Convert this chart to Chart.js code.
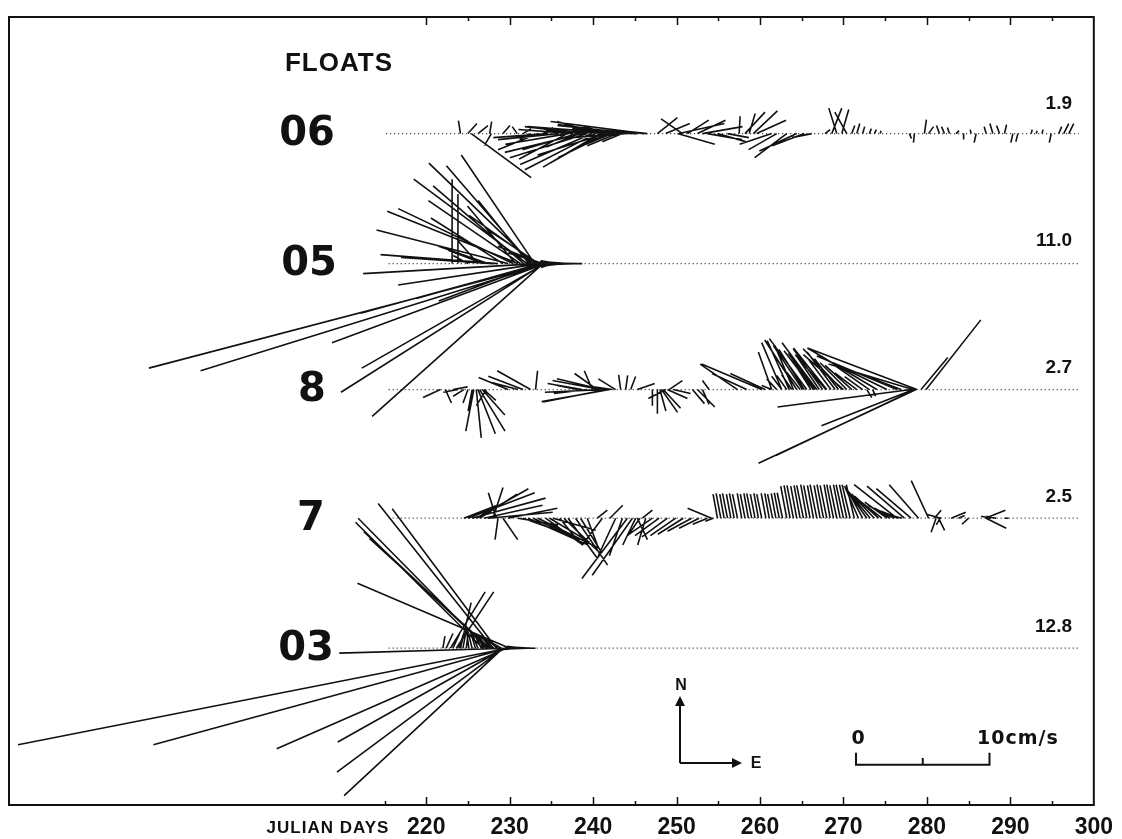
<!DOCTYPE html>
<html>
<head>
<meta charset="utf-8">
<script src="https://cdn.jsdelivr.net/npm/chart.js@4.4.0/dist/chart.umd.min.js"></script>
<style>
  html, body { margin: 0; padding: 0; background: #fff; }
  #wrap { position: relative; width: 1122px; height: 839px; }
</style>
</head>
<body>
<div id="wrap"><canvas id="floats"></canvas></div>
<script>
// rows, top to bottom
const floatNames = ["06", "05", "8", "7", "03"];
const rowNumbers = ["1.9", "11.0", "2.7", "2.5", "12.8"];
const dayTicks = [220, 230, 240, 250, 260, 270, 280, 290, 300];

// float 06 : start day of each stick, east / north speed in cm/s
const days06 = [224.1, 225.0, 225.4, 226.2, 227.6, 227.8, 229.2, 230.9, 231.6, 232.4, 233.4, 234.0, 234.6, 235.8, 236.4, 237.0, 237.6, 238.1, 238.7, 239.1,
  239.3, 239.9, 240.3, 240.5, 240.8, 241.1, 241.5, 241.7, 242.0, 242.3, 242.7, 242.9, 243.2, 243.5, 244.1, 244.7, 245.3, 246.1, 246.5, 247.7,
  248.7, 250.1, 250.3, 250.7, 251.3, 252.5, 253.1, 253.7, 254.9, 256.1, 257.5, 258.2, 258.7, 259.2, 259.6, 261.4, 262.0, 263.2, 264.4, 265.3,
  266.2, 267.8, 268.6, 269.2, 269.8, 270.4, 271.0, 271.6, 272.3, 273.1, 273.7, 274.4, 277.9, 278.5, 279.7, 280.2, 281.5, 282.1, 282.7, 283.5,
  284.4, 285.3, 285.9, 287.1, 287.9, 288.7, 289.3, 290.3, 290.9, 292.5, 293.1, 293.8, 294.9, 295.8, 296.4, 297.0,
  236.9, 238.4, 243.8, 245.0];
const east06 = [-0.15, 0.67, 4.48, 0.75, 0.15, -0.52, 0.52, -0.37, 0.6, -0.75, -3.0, 0.75, -4.1, -4.5, -1.9, -4.7, -4.1, -4.1, -5.8, -4.55,
  -5.8, -5.4, -5.3, -3.0, -4.25, -3.9, -5.1, -3.7, -2.0, -3.0, -5.2, -2.25, -6.9, -1.5, -5.2, -4.5, -3.4, -7.0, -2.8, 1.5,
  1.8, 2.8, 3.4, -1.6, 1.6, 2.1, 3.0, 2.6, 2.1, 1.6, 0.07, 1.5, 0.45, 1.8, 2.2, -2.4, -2.1, -2.4, -2.8, -2.4,
  -1.5, 0.37, 0.75, -0.6, 0.52, -0.9, 0.22, 0.22, 0.15, 0.15, 0.15, 0.07, 0.15, -0.07, 0.15, 0.37, -0.22, -0.22, -0.15, 0.22,
  0, -0.07, -0.15, -0.15, -0.22, -0.22, 0.15, -0.15, -0.15, 0.07, 0.07, 0.07, -0.15, 0.22, 0.37, 0.37,
  -3.6, -2.5, -4.0, -5.8];
const north06 = [0.97, 0.75, -3.28, 0.6, 0.9, -0.9, 0.6, 0.52, 0.37, -0.45, -1.2, 0.45, -0.3, -0.45, 0.45, -0.8, 0.3, -1.2, -1.4, 0.52,
  -1.8, -2.3, -2.7, 0.9, -2.5, -2.2, -1.6, -1.8, 0.52, -1.2, 0.22, -0.9, 0.52, -0.6, 0.67, 0.37, 0.22, 0.9, 0.3, 1.2,
  0.75, -0.8, 0.75, 1.1, 1.0, 1.0, 0.52, -0.45, -0.6, -0.3, 1.3, 1.6, 1.5, 1.7, 1.0, -0.8, -1.2, -1.8, -1.3, -0.9,
  -0.3, 0.3, 1.9, 1.9, 1.8, 1.6, 0.6, 0.75, 0.52, 0.37, 0.3, 0.22, -0.37, -0.67, 1.05, 0.52, 0.6, 0.52, 0.45, 0.22,
  -0.45, 0.3, -0.67, 0.52, 0.75, 0.6, 0.67, -0.67, -0.6, 0.3, 0.22, 0.3, -0.67, 0.52, 0.75, 0.75,
  -1.9, -1.0, -0.3, 0.6];

// float 05
const days05 = [223.1, 223.8, 225.0, 226.2, 226.8, 227.4, 228.0, 228.6, 229.2, 229.8, 230.4, 230.7, 231.0, 231.3, 231.7, 232.1, 232.3, 232.5, 232.8, 233.0,
  233.3, 233.4, 233.5, 233.6, 233.7, 233.9, 234.0, 234.1, 234.2, 234.3, 234.4, 234.6, 233.5, 233.7, 234.0, 235.2, 235.8, 236.4, 237.0, 237.6,
  238.1, 238.7];
const east05 = [0, 0, -1.1, -1.5, -2.6, -3.7, -6.9, -8.8, -5.4, -9.85, -8.6, -3.6, -9.8, -6.9, -6.8, -8.5, -3.8, -6.3, -7.8, -5.5,
  -5.1, -13.1, -7.5, -10.6, -9.3, -13.6, -12.8, -15.2, -13.7, -16.0, -25.9, -29.9, -3.8, -3.2, -2.6, -0.9, -1.3, -1.7, -2.1, -2.5,
  -2.8, -3.2];
const north05 = [6.3, 5.2, 0.6, 1.7, 1.0, 1.3, 0.45, 0.67, 3.4, 2.5, 4.1, 4.3, 3.9, 4.7, 5.8, 6.3, 4.7, 7.3, 7.5, 8.1,
  3.6, -0.75, -2.8, -1.6, -2.6, -3.7, -11.4, -9.6, -7.8, -5.9, -8.0, -7.8, 2.5, 1.3, 0.8, -0.3, 0.2, -0.2, 0.15, -0.1,
  0.05, 0];

// float 8
const days8 = [221.7, 222.3, 223.2, 223.8, 224.5, 225.0, 225.5, 225.7, 226.0, 226.2, 226.4, 226.7, 226.9, 227.2, 229.8, 231.0, 231.6, 232.5, 233.1, 238.1,
  238.7, 239.3, 239.9, 240.5, 240.9, 241.1, 241.5, 241.7, 242.0, 242.3, 242.7, 243.3, 243.9, 244.5, 245.3, 247.1, 247.7, 248.0, 248.2, 248.4,
  248.7, 248.9, 249.1, 249.6, 251.9, 252.5, 253.1, 253.9, 257.3, 258.4, 260.2, 260.6, 261.4, 262.0, 262.6, 263.2, 263.8, 264.4, 264.8, 265.1,
  265.6, 266.1, 266.4, 266.8, 267.1, 267.5, 268.0, 268.5, 269.0, 269.4, 269.8, 270.4, 271.0, 271.6, 272.3, 272.8, 273.1, 273.5, 274.0, 275.2,
  276.4, 276.9, 278.1, 278.3, 278.4, 278.6, 278.7, 278.8, 279.3, 279.9,
  261.4, 262.6, 263.5, 264.0, 265.3, 266.6, 267.9, 270.0];
const east8 = [-1.3, 0.45, 1.1, -1.1, -0.8, -0.37, -0.3, -0.6, 0.37, 1.3, 1.9, 1.7, 0.9, -0.75, -2.2, -1.9, -2.6, -2.5, 0.15, -1.5,
  -2.6, -2.5, -0.6, -1.7, -3.6, -3.4, -4.55, -4.7, -5.1, -2.6, -1.3, -0.15, 0.15, 0.37, 1.3, 0, 0, 0.45, 1.2, 1.3,
  -1.3, 1.5, 1.0, 1.3, 0.9, 1.3, 0.5, -0.5, -2.8, -2.6, -4.5, -2.6, -0.75, -0.75, -0.75, -0.75, -0.75, -2.4, -1.0, -2.2,
  -2.8, -1.4, -2.2, -2.6, -1.7, -2.2, -2.5, -1.65, -2.1, -1.8, -2.9, -2.0, -2.0, -1.65, -1.35, 0.37, -2.6, 0.22, -5.2, -4.5,
  -6.0, -3.7, -10.0, -6.3, -6.9, -10.4, -11.8, -8.2, 2.0, 4.1,
  -1.0, -1.5, -1.65, -1.4, -1.9, -2.0, -2.3, -3.0];
const north8 = [-0.6, -1.0, 0.2, -0.2, -0.5, -1.0, -1.6, -3.1, -3.6, -3.3, -3.1, -1.9, -0.8, -1.2, 0.9, 0.5, 1.0, 1.4, 1.4, 0.3,
  0.45, -0.3, 1.4, 1.2, 0.67, 0.8, -0.2, -0.9, -0.9, 0.37, 0.8, 1.1, 1.05, 0.97, 0.45, -1.2, -1.8, -1.6, -1.7, -1.4,
  -0.67, -0.67, 0.67, -0.3, -1.05, -1.3, -1.1, 0.67, 1.9, 1.2, 1.9, 1.2, 0.3, 0.8, 1.0, 1.05, 1.1, 3.7, 1.3, 3.3,
  3.8, 2.2, 2.9, 3.5, 2.5, 3.05, 3.1, 2.2, 2.8, 2.3, 3.05, 2.0, 1.8, 1.25, 0.97, -0.6, 1.8, -0.5, 3.1, 2.2,
  2.5, 1.4, -1.3, 1.9, -2.7, -4.9, -5.5, 3.1, 2.4, 5.2,
  2.8, 3.5, 3.65, 3.3, 3.0, 2.7, 2.6, 2.6];

// float 7
const days7 = [224.5, 225.0, 225.5, 226.0, 226.4, 226.9, 227.4, 228.0, 228.4, 228.6, 229.2, 229.8, 231.0, 231.6, 232.2, 233.4, 234.3, 235.2, 236.0, 237.0,
  237.9, 239.3, 240.5, 241.1, 242.0, 242.7, 243.5, 244.1, 244.7, 245.1, 245.3, 245.6, 245.9, 246.3, 247.1, 247.9, 248.9, 249.9, 250.8, 251.8,
  252.7, 253.7, 254.2, 254.4,
  254.9, 255.3, 255.7, 256.1, 256.5, 256.9, 257.3, 257.8, 258.2, 258.6, 259.0, 259.4, 259.8, 260.2, 260.7, 261.1, 261.5, 261.9, 262.3, 262.7,
  263.2, 263.6, 264.0, 264.4, 264.8, 265.2, 265.6, 266.0, 266.4, 266.8, 267.2, 267.6, 268.0, 268.4, 268.8, 269.2, 269.6, 270.0, 270.4, 270.8,
  271.3, 271.8, 272.3, 272.8, 273.2, 273.7, 274.2, 274.6, 275.2, 275.6, 276.1, 276.6, 277.0, 276.4, 277.3, 278.1, 279.0, 280.2, 280.9, 281.1,
  281.4, 281.7, 281.6, 282.9, 283.8, 285.0, 287.0, 287.1, 287.7, 288.3, 289.3,
  232.8, 234.8, 236.5, 238.5];
const east7 = [2.5, 5.0, 5.5, 3.9, 2.8, 4.4, 4.85, 0.75, -0.6, -0.22, 1.1, 3.7, 3.0, 3.7, 4.5, 4.5, 2.8, 3.2, 1.3, 2.2,
  2.4, 0.75, 0.75, -1.5, 0.97, -1.3, -0.97, -3.4, -3.0, -0.97, 0.75, -0.9, 0.75, -0.6, -1.9, -1.8, -1.9, -1.9, -1.9, -1.8,
  -1.5, -1.1, -1.8, -0.6,
  -0.33, -0.35, -0.33, -0.37, -0.33, -0.35, -0.37, -0.33, -0.35, -0.33, -0.37, -0.35, -0.33, -0.37, -0.35, -0.33, -0.37, -0.35, -0.37, -0.4,
  -0.45, -0.45, -0.48, -0.45, -0.45, -0.5, -0.45, -0.48, -0.45, -0.5, -0.45, -0.48, -0.5, -0.45, -0.5, -0.52, -0.5, -0.55, -0.55, -0.6,
  -0.6, -1.05, -1.2, -1.5, -1.6, -1.7, -1.8, -1.8, -1.65, -1.65, -1.5, -1.3, -1.05, -3.2, -2.8, -2.6, -2.2, -1.3, 0.5, -0.37,
  0.45, -1.1, -0.3, 1.1, 0.45, -0.5, 1.5, 1.5, -0.75, -0.75, 0.3,
  3.5, 3.0, 2.5, 1.6];
const north7 = [0.97, 1.9, 1.5, 2.2, 1.8, 0.97, 0.45, 2.3, 1.9, -1.6, -1.6, 0.75, -0.5, -1.3, -2.0, -2.2, -2.0, -0.9, -1.6, -3.0,
  -3.5, -2.0, 0.6, -2.0, 0.97, -2.8, -2.8, -4.5, -4.25, -2.0, -1.6, -1.3, 0.6, -2.0, -1.3, -1.3, -1.4, -1.3, -1.2, -0.97,
  -0.75, -0.45, 0.75, -0.22,
  1.8, 1.85, 1.8, 1.85, 1.8, 1.85, 1.8, 1.85, 1.8, 1.85, 1.85, 1.8, 1.85, 1.8, 1.85, 1.85, 1.8, 1.85, 1.9, 1.9,
  2.4, 2.45, 2.45, 2.4, 2.45, 2.45, 2.5, 2.45, 2.45, 2.5, 2.45, 2.5, 2.45, 2.5, 2.5, 2.45, 2.5, 2.5, 2.5, 2.5,
  2.5, 2.4, 2.2, 2.1, 1.95, 1.8, 1.65, 1.4, 1.2, 0.97, 0.75, 0.52, 0.3, 2.5, 2.4, 2.2, 2.5, 2.8, 0.6, -1.05,
  -0.9, 0.3, -0.5, 0.45, 0.2, -0.45, 0.6, -0.75, 0.15, 0.15, 0,
  -1.6, -1.8, -2.4, -2.6];

// float 03
const days03 = [222.0, 222.4, 222.9, 223.2, 223.6, 223.9, 224.1, 224.4, 224.8, 225.1, 225.5, 225.9, 226.2, 226.6, 226.8, 226.9, 227.2, 227.3, 227.4, 227.6,
  227.8, 228.0, 228.1, 228.4, 228.6, 229.0, 229.2, 229.3, 229.4, 229.6, 229.7, 229.8, 229.9, 230.0, 230.4, 231.0, 231.6, 232.2, 232.7, 233.1];
const east03 = [0.15, 0.5, 2.6, 0.5, 2.8, 0.37, 0.8, 0.22, 0.15, -0.15, -0.3, -0.37, -0.45, -0.52, -9.55, -0.6, -9.6, -0.67, -9.3, -9.0,
  -0.8, -8.6, -0.9, -7.8, -1.05, -1.05, -11.9, -12.5, -12.5, -17.2, -26.5, -36.7, -12.7, -11.4, -0.6, -1.0, -1.2, -1.6, -1.9, -2.3];
const north03 = [0.9, 1.1, 4.2, 1.1, 4.2, 1.1, 3.4, 1.2, 1.2, 1.2, 1.2, 1.2, 1.1, 1.05, 9.4, 1.05, 9.7, 0.97, 8.7, 8.2,
  0.9, 10.8, 0.8, 10.4, 0.75, 0.6, -11.0, -9.25, -7.0, -7.5, -7.2, -7.2, -0.37, 4.85, 0.1, -0.1, 0.15, -0.05, 0.1, 0];

const allDays = [days06, days05, days8, days7, days03];
const allEast = [east06, east05, east8, east7, east03];
const allNorth = [north06, north05, north8, north7, north03];

// layout of the figure (not data)
const rowBase = [50.1, 40.4, 31.0, 21.4, 11.7];   // baseline of each row on the y scale (cm/s units)
const dotStart = [215.2, 215.5, 215.5, 215.5, 215.5];
const dotEnd = 298.2;
const DAYS_PER_CMS = 1.6;                           // 10 cm/s scale bar = 16 days wide

function stickPoints(days, east, north, base) {
  const pts = [];
  for (let i = 0; i < days.length; i++) {
    pts.push({ x: days[i], y: base });
    pts.push({ x: days[i] + east[i] * DAYS_PER_CMS, y: base + north[i] });
    pts.push({ x: days[i], y: null });
  }
  return pts;
}

const datasets = [];
for (let r = 0; r < 5; r++) {
  datasets.push({
    label: floatNames[r] + " base",
    data: [{ x: dotStart[r], y: rowBase[r] }, { x: dotEnd, y: rowBase[r] }],
    showLine: true, borderColor: "#222", borderWidth: 1.2, borderDash: [1, 3],
    pointRadius: 0
  });
  datasets.push({
    label: floatNames[r],
    data: stickPoints(allDays[r], allEast[r], allNorth[r], rowBase[r]),
    showLine: true, borderColor: "#111", borderWidth: 1.6, pointRadius: 0,
    spanGaps: false
  });
}
// 10 cm/s scale bar
datasets.push({
  label: "scale",
  data: [{ x: 271.5, y: 3.9 }, { x: 271.5, y: 3.0 }, { x: 271.5 + 10 * DAYS_PER_CMS, y: 3.0 }, { x: 271.5 + 10 * DAYS_PER_CMS, y: 3.9 },
         { x: 279.5, y: null }, { x: 279.5, y: 3.0 }, { x: 279.5, y: 3.5 }],
  showLine: true, borderColor: "#111", borderWidth: 2, pointRadius: 0
});

const decor = {
  id: "decor",
  afterDraw(chart) {
    const ctx = chart.ctx;
    const a = chart.chartArea;
    const xs = chart.scales.x, ys = chart.scales.y;
    ctx.save();
    ctx.strokeStyle = "#111";
    ctx.fillStyle = "#111";
    // frame
    ctx.lineWidth = 2;
    ctx.strokeRect(a.left, a.top, a.right - a.left, a.bottom - a.top);
    // inward ticks, top and bottom
    ctx.lineWidth = 1.5;
    ctx.beginPath();
    for (let d = 215; d < 300; d += 5) {
      const px = Math.round(xs.getPixelForValue(d)) + 0.5;
      const len = d % 10 === 0 ? 8 : 4;
      ctx.moveTo(px, a.bottom); ctx.lineTo(px, a.bottom - len);
      if (d >= 220) { ctx.moveTo(px, a.top); ctx.lineTo(px, a.top + len); }
    }
    ctx.stroke();

    ctx.textBaseline = "middle";
    // float names
    ctx.textAlign = "center";
    ctx.font = "bold 40px 'DejaVu Sans'";
    const nameX = [307, 309, 312, 311, 306];
    for (let r = 0; r < 5; r++) {
      ctx.fillText(floatNames[r], nameX[r], ys.getPixelForValue(rowBase[r]) + 1);
    }
    ctx.font = "bold 26px 'Liberation Sans'";
    ctx.letterSpacing = "1px";
    ctx.fillText("FLOATS", 339, 64);
    ctx.letterSpacing = "0px";
    // numbers at right of each row
    ctx.textAlign = "right";
    ctx.font = "bold 19px 'Liberation Sans'";
    const numOff = [30, 23, 22, 21, 21];
    for (let r = 0; r < 5; r++) {
      ctx.fillText(rowNumbers[r], 1072, ys.getPixelForValue(rowBase[r]) - numOff[r]);
    }
    // axis title
    ctx.textAlign = "center";
    ctx.font = "bold 17px 'Liberation Sans'";
    ctx.letterSpacing = "1px";
    ctx.fillText("JULIAN DAYS", 328, 828);
    ctx.letterSpacing = "0px";

    // N / E arrows
    const ox = 680, oy = 763;
    ctx.lineWidth = 2;
    ctx.beginPath();
    ctx.moveTo(ox, oy); ctx.lineTo(ox, 704);
    ctx.moveTo(ox, oy); ctx.lineTo(734, oy);
    ctx.stroke();
    ctx.beginPath();
    ctx.moveTo(ox, 696); ctx.lineTo(ox - 5, 706); ctx.lineTo(ox + 5, 706); ctx.closePath();
    ctx.moveTo(742, oy); ctx.lineTo(732, oy - 5); ctx.lineTo(732, oy + 5); ctx.closePath();
    ctx.fill();
    ctx.font = "bold 16px 'Liberation Sans'";
    ctx.fillText("N", 681, 686);
    ctx.fillText("E", 756, 764);

    // scale bar labels
    ctx.font = "bold 19px 'DejaVu Sans'";
    ctx.fillText("0", xs.getPixelForValue(271.5) + 2, 739);
    ctx.textAlign = "left";
    ctx.letterSpacing = "1px";
    ctx.fillText("10cm/s", 977, 739);
    ctx.restore();
  }
};

new Chart(document.getElementById("floats"), {
  type: "scatter",
  data: { datasets },
  options: {
    responsive: true,
    maintainAspectRatio: false,
    animation: false,
    devicePixelRatio: 1,
    layout: { padding: { left: 9, right: 24, top: 17, bottom: 0 } },
    plugins: { legend: { display: false }, tooltip: { enabled: false } },
    elements: { line: { tension: 0 } },
    scales: {
      x: {
        type: "linear", min: 170, max: 300,
        grid: { display: false, drawTicks: false },
        border: { display: false },
        ticks: {
          stepSize: 10, autoSkip: false, maxRotation: 0, padding: 9,
          color: "#111",
          font: { family: "Liberation Sans", weight: "bold", size: 23 },
          callback: v => dayTicks.includes(v) ? String(v) : ""
        },
        afterFit: s => { s.height = 34; }
      },
      y: { type: "linear", display: false, min: 0, max: 58.8 }
    }
  },
  plugins: [decor]
});
</script>
</body>
</html>
